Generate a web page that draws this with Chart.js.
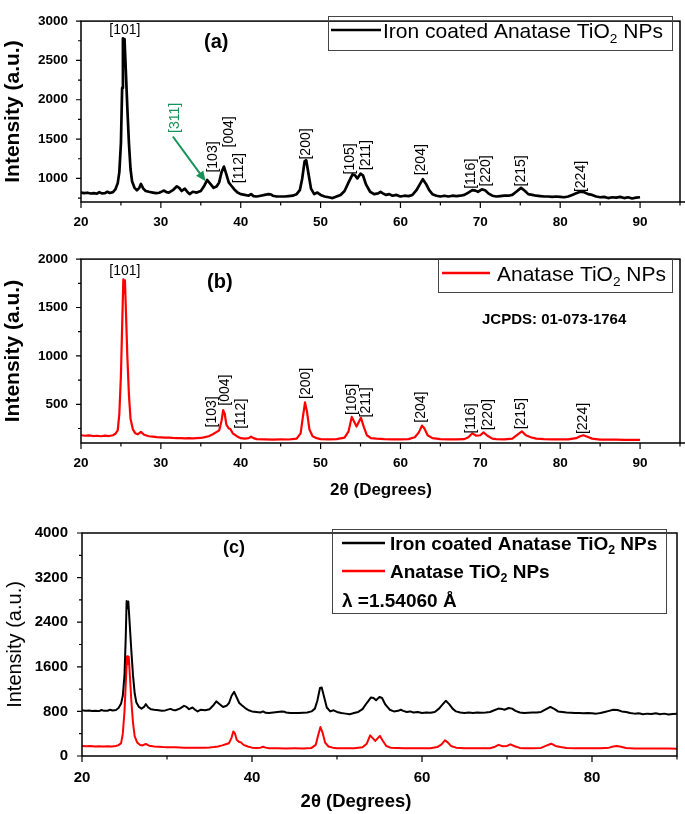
<!DOCTYPE html>
<html><head><meta charset="utf-8">
<script src="https://cdn.jsdelivr.net/npm/chart.js@4.4.0/dist/chart.umd.min.js"></script>
<style>
html,body{margin:0;padding:0;background:#fff;}
#wrap{position:relative;width:685px;height:814px;overflow:hidden;}
canvas{position:absolute;left:0;}
</style></head><body>
<div id="wrap">
<canvas id="ca" width="685" height="232" style="top:0px"></canvas>
<canvas id="cb" width="685" height="268" style="top:238px"></canvas>
<canvas id="cc" width="685" height="304" style="top:510px"></canvas>
</div>
<script>
// ---------- DATA ----------
const twoThetaIron = [20,20.4,20.8,21.2,21.6,22,22.3,22.6,23,23.3,23.6,24,24.3,24.6,24.8,25,25.15,25.25,25.35,25.45,25.6,25.8,26,26.2,26.4,26.7,27,27.3,27.5,27.8,28.1,28.5,29,29.4,29.8,30.1,30.4,30.7,31,31.5,32,32.3,32.6,33,33.3,33.6,34,34.5,35,35.4,35.8,36.2,36.6,37,37.3,37.6,37.9,38.2,38.5,38.8,39.2,39.6,40,40.5,41,41.3,41.6,42,42.5,43,43.5,43.8,44,44.5,45,45.5,46,46.5,47,47.4,47.7,48,48.2,48.5,48.8,49.2,49.6,50,50.5,51,51.5,52,52.5,53,53.5,54,54.3,54.6,55,55.3,55.7,56.2,56.7,57.2,57.5,57.8,58.2,58.6,59,59.5,60,60.5,61,61.5,62,62.4,62.8,63.2,63.6,64,64.5,65,65.5,66,66.5,67,67.5,68,68.5,69,69.4,69.7,70.2,70.6,71,71.5,72,72.5,73,73.5,74,74.5,75.1,75.6,76,76.5,77,77.5,78,78.5,79,79.5,80,80.5,81,81.5,82,82.5,83,83.5,84,84.5,85,85.5,86,86.5,87,87.5,88,88.5,89,89.5,90];
const ironCoated = [820,812,818,808,812,805,825,810,812,830,815,825,860,940,1080,1450,2150,2780,2650,2770,2400,1900,1450,1120,960,880,850,880,930,870,840,830,820,812,818,832,845,826,820,850,900,880,840,870,830,800,830,820,840,900,980,930,880,900,950,1080,1150,1050,950,910,860,820,800,790,780,800,775,770,780,790,800,795,780,770,770,770,775,780,800,850,1000,1220,1230,1050,870,800,820,790,770,760,750,770,790,840,950,1050,1040,1000,1060,1040,920,830,800,810,830,810,790,800,780,790,770,780,775,790,850,920,990,930,850,800,780,770,780,770,780,775,780,790,820,850,845,830,860,850,810,780,770,775,780,780,790,830,880,840,800,790,780,775,770,770,765,770,765,760,770,790,810,830,825,800,790,770,760,765,750,760,755,765,750,760,745,755,760];
const twoThetaAnatase = [20,20.5,21,21.5,22,22.5,23,23.5,24,24.3,24.6,24.8,25,25.15,25.3,25.4,25.5,25.65,25.8,26,26.2,26.5,26.8,27.1,27.5,27.9,28.5,29,29.5,30,30.5,31,31.5,32,32.5,33,33.5,34,34.5,35,35.5,36,36.5,37,37.3,37.6,37.8,38,38.2,38.5,38.7,39,39.5,40,40.5,41,41.3,41.6,42,43,44,45,46,47,47.5,47.8,48.05,48.3,48.6,49,49.5,50,51,52,53,53.5,53.9,54.2,54.5,54.8,55.05,55.4,55.8,56.3,57,58,59,60,61,61.8,62.3,62.7,63,63.4,64,65,66,67,68,68.5,69,69.5,70,70.4,70.9,71.5,72,73,74,74.7,75.2,75.7,76.3,77,78,79,80,81,82,82.5,82.9,83.4,84,85,86,87,88,89,90];
const anatase = [180,175,178,172,175,170,176,172,180,195,230,400,800,1300,1790,1650,1780,1400,1000,600,350,240,200,190,215,185,170,165,160,158,155,155,152,150,150,148,150,147,150,152,160,170,190,215,230,330,440,400,290,250,245,200,170,150,145,150,165,150,140,138,135,137,136,145,200,380,520,420,240,170,150,140,137,140,155,220,370,320,270,320,360,270,180,150,145,140,138,137,140,160,210,280,250,180,150,140,138,137,140,160,200,175,180,210,175,145,140,138,145,190,220,180,160,145,140,138,137,138,150,170,180,165,145,135,135,134,133,133,132];

// tick labels
const xTicksAB = [20,30,40,50,60,70,80,90];
const xMinorAB = [25,35,45,55,65,75,85,95];
const yTicksA = [1000,1500,2000,2500,3000];
const yMinorA = [750,1250,1750,2250,2750];
const yTicksB = [500,1000,1500,2000];
const yMinorB = [250,750,1250,1750];
const xTicksC = [20,40,60,80];
const xMinorC = [30,50,70,90];
const yTicksC = [0,800,1600,2400,3200,4000];
const yMinorC = [400,1200,2000,2800,3600];

// peak labels (hkl) anchored at (2θ, intensity)
const hklA = ['[103]','[004]','[112]','[200]','[105]','[211]','[204]','[116]','[220]','[215]','[224]'];
const hklAtA = [[36.6,1272],[38.5,1592],[39.75,1130],[48.25,1438],[53.75,1249],[55.75,1296],[62.6,1237],[68.9,1059],[70.75,1095],[75.1,1095],[82.6,1024]];
const hklB = ['[103]','[004]','[112]','[200]','[105]','[211]','[204]','[116]','[220]','[215]','[224]'];
const hklAtB = [[36.4,422],[38.1,647],[40,402],[48.25,716],[53.9,549],[55.75,520],[62.6,471],[68.9,353],[71,392],[75.1,402],[82.9,353]];

const FONT = '"Liberation Sans", Arial, Helvetica, sans-serif';
const GREEN = '#17925a';

function subText(ctx, parts, x, y, size, weight){
  let cx = x;
  for (const [t, sub] of parts){
    if (sub){
      ctx.font = weight + ' ' + (size*0.65) + 'px ' + FONT;
      ctx.fillText(t, cx, y + size*0.22);
    } else {
      ctx.font = weight + ' ' + size + 'px ' + FONT;
      ctx.fillText(t, cx, y);
    }
    cx += ctx.measureText(t).width;
  }
}

function rotText(ctx, t, x, y, font, color){
  ctx.save();
  ctx.translate(x, y);
  ctx.rotate(-Math.PI/2);
  ctx.font = font; ctx.fillStyle = color;
  ctx.textAlign = 'center'; ctx.textBaseline = 'middle';
  ctx.fillText(t, 0, 0);
  ctx.restore();
}

function deco(o){
  return {
    id: 'deco_' + o.name,
    afterDraw(chart){
      const ctx = chart.ctx, a = chart.chartArea;
      const xs = chart.scales.x, ys = chart.scales.y;
      ctx.save();
      ctx.strokeStyle = '#000'; ctx.lineWidth = 1.5;
      ctx.strokeRect(a.left, a.top, a.right - a.left, a.bottom - a.top);
      if (o.extendAxis){
        ctx.beginPath(); ctx.moveTo(a.right, a.bottom); ctx.lineTo(chart.width, a.bottom); ctx.stroke();
      }
      ctx.lineWidth = 1.2;
      ctx.beginPath();
      o.xTicks.forEach(v=>{const p=xs.getPixelForValue(v); ctx.moveTo(p,a.bottom); ctx.lineTo(p,a.bottom+6);});
      o.xMinor.forEach(v=>{const p=xs.getPixelForValue(v); ctx.moveTo(p,a.bottom); ctx.lineTo(p,a.bottom+3.5);});
      o.yTicks.forEach(v=>{const p=ys.getPixelForValue(v); ctx.moveTo(a.left,p); ctx.lineTo(a.left-5,p);});
      o.yMinor.forEach(v=>{const p=ys.getPixelForValue(v); ctx.moveTo(a.left,p); ctx.lineTo(a.left-3,p);});
      ctx.stroke();
      rotText(ctx, 'Intensity (a.u.)', o.yTitleX, (a.top+a.bottom)/2, o.yTitleFont, '#000');
      if (o.xTitle){
        ctx.font = o.xTitle.font; ctx.fillStyle = '#000';
        ctx.textAlign = 'center'; ctx.textBaseline = 'middle';
        ctx.fillText('2\u03B8 (Degrees)', o.xTitle.x, o.xTitle.y);
      }
      ctx.font = o.panel.font; ctx.fillStyle = '#000';
      ctx.textAlign = 'left'; ctx.textBaseline = 'middle';
      ctx.fillText(o.panel.t, o.panel.x, o.panel.y);
      if (o.hkl){
        const [txt, at] = o.hkl;
        txt.forEach((t,i)=>rotText(ctx, t, xs.getPixelForValue(at[i][0]), ys.getPixelForValue(at[i][1]), '14px ' + FONT, '#000'));
      }
      if (o.h101){
        ctx.font = '14px ' + FONT; ctx.fillStyle = '#000'; ctx.textAlign='center'; ctx.textBaseline='middle';
        ctx.fillText('[101]', xs.getPixelForValue(o.h101[0]), ys.getPixelForValue(o.h101[1]));
      }
      if (o.extra) o.extra(ctx, chart);
      ctx.restore();
    }
  };
}

function makeChart(id, datasets, o){
  return new Chart(document.getElementById(id), {
    type: 'line',
    data: { datasets },
    options: {
      responsive: false, animation: false, events: [],
      layout: { padding: { left: 0, right: o.padRight, top: o.top, bottom: 0 } },
      plugins: { legend: { display: false }, tooltip: { enabled: false } },
      elements: { point: { radius: 0 }, line: { tension: 0, borderJoinStyle: 'round' } },
      scales: {
        x: {
          type: 'linear', min: o.xmin, max: o.xmax,
          grid: { display: false, drawTicks: false }, border: { display: false },
          afterBuildTicks: s => { s.ticks = o.xTicks.map(v => ({ value: v })); },
          afterFit: s => { s.height = o.xAxisH; },
          ticks: { autoSkip: false, maxRotation: 0, padding: o.xPad, color: '#000',
                   font: { family: FONT, size: o.tickSize, weight: 'bold' }, callback: v => String(v) }
        },
        y: {
          type: 'linear', min: o.ymin, max: o.ymax,
          grid: { display: false, drawTicks: false }, border: { display: false },
          afterBuildTicks: s => { s.ticks = o.yTicks.map(v => ({ value: v })); },
          afterFit: s => { s.width = o.left; },
          ticks: { autoSkip: false, padding: o.yPad, color: '#000',
                   font: { family: FONT, size: o.tickSize, weight: 'bold' }, callback: v => String(v) }
        }
      }
    },
    plugins: [deco(o)]
  });
}

const pts = (xs, ys) => xs.map((x, i) => ({ x, y: ys[i] }));

// ---------- (a) ----------
makeChart('ca', [
  { data: pts(twoThetaIron, ironCoated), borderColor: '#000', borderWidth: 2.7 }
], {
  name: 'a', xmin: 20, xmax: 95, ymin: 700, ymax: 3000, top: 8, padRight: 5, left: 81, xAxisH: 30,
  xPad: 12, yPad: 13, tickSize: 13.5, xTicks: xTicksAB, xMinor: xMinorAB, yTicks: yTicksA, yMinor: yMinorA,
  extendAxis: true, yTitleX: 13, yTitleFont: 'bold 21px ' + FONT,
  panel: { t: '(a)', x: 204, y: 42, font: 'bold 20px ' + FONT },
  hkl: [hklA, hklAtA], h101: [25.5, 2882],
  extra: (ctx, chart) => {
    const xs = chart.scales.x, ys = chart.scales.y;
    rotText(ctx, '[311]', xs.getPixelForValue(31.75), ys.getPixelForValue(1769), '14px ' + FONT, GREEN);
    const x1 = xs.getPixelForValue(31.5), y1 = ys.getPixelForValue(1533);
    const x2 = xs.getPixelForValue(35.6), y2 = ys.getPixelForValue(964);
    const ang = Math.atan2(y2 - y1, x2 - x1);
    ctx.strokeStyle = GREEN; ctx.fillStyle = GREEN; ctx.lineWidth = 2;
    ctx.beginPath(); ctx.moveTo(x1, y1); ctx.lineTo(x2 - 6*Math.cos(ang), y2 - 6*Math.sin(ang)); ctx.stroke();
    ctx.beginPath(); ctx.moveTo(x2, y2);
    ctx.lineTo(x2 - 10*Math.cos(ang) + 4.5*Math.sin(ang), y2 - 10*Math.sin(ang) - 4.5*Math.cos(ang));
    ctx.lineTo(x2 - 10*Math.cos(ang) - 4.5*Math.sin(ang), y2 - 10*Math.sin(ang) + 4.5*Math.cos(ang));
    ctx.closePath(); ctx.fill();
    ctx.strokeStyle = '#444'; ctx.lineWidth = 1;
    ctx.strokeRect(328.5, 16.5, 344, 34);
    ctx.strokeStyle = '#000'; ctx.lineWidth = 2.5;
    ctx.beginPath(); ctx.moveTo(331, 30); ctx.lineTo(381, 30); ctx.stroke();
    ctx.fillStyle = '#000'; ctx.textAlign = 'left'; ctx.textBaseline = 'alphabetic';
    subText(ctx, [['Iron coated Anatase TiO', false], ['2', true], [' NPs', false]], 383, 38, 21, 'normal');
  }
});

// ---------- (b) ----------
makeChart('cb', [
  { data: pts(twoThetaAnatase, anatase), borderColor: '#ff0000', borderWidth: 2.2 }
], {
  name: 'b', xmin: 20, xmax: 95, ymin: 100, ymax: 2000, top: 10, padRight: 5, left: 81, xAxisH: 63,
  xPad: 12, yPad: 13, tickSize: 13.5, xTicks: xTicksAB, xMinor: xMinorAB, yTicks: yTicksB, yMinor: yMinorB,
  extendAxis: true, yTitleX: 13, yTitleFont: 'bold 21px ' + FONT,
  xTitle: { x: 381, y: 252, font: 'bold 17px ' + FONT },
  panel: { t: '(b)', x: 207, y: 44, font: 'bold 20px ' + FONT },
  hkl: [hklB, hklAtB], h101: [25.5, 1873],
  extra: (ctx) => {
    ctx.strokeStyle = '#444'; ctx.lineWidth = 1;
    ctx.strokeRect(438.5, 20.5, 234, 34);
    ctx.strokeStyle = '#ff0000'; ctx.lineWidth = 2.5;
    ctx.beginPath(); ctx.moveTo(442, 35); ctx.lineTo(490, 35); ctx.stroke();
    ctx.fillStyle = '#000'; ctx.textAlign = 'left'; ctx.textBaseline = 'alphabetic';
    subText(ctx, [['Anatase TiO', false], ['2', true], [' NPs', false]], 497, 43, 21, 'normal');
    ctx.font = 'bold 15px ' + FONT; ctx.textBaseline = 'middle';
    ctx.fillText('JCPDS: 01-073-1764', 482, 82);
  }
});

// ---------- (c) ----------
makeChart('cc', [
  { data: pts(twoThetaIron, ironCoated), borderColor: '#000', borderWidth: 2 },
  { data: pts(twoThetaAnatase, anatase), borderColor: '#ff0000', borderWidth: 2 }
], {
  name: 'c', xmin: 20, xmax: 90, ymin: 0, ymax: 4000, top: 12, padRight: 8, left: 82, xAxisH: 58,
  xPad: 13, yPad: 14, tickSize: 15, xTicks: xTicksC, xMinor: xMinorC, yTicks: yTicksC, yMinor: yMinorC,
  extendAxis: false, yTitleX: 15, yTitleFont: 'normal 20px ' + FONT,
  xTitle: { x: 356, y: 292, font: 'bold 18.5px ' + FONT },
  panel: { t: '(c)', x: 223, y: 38, font: 'bold 18px ' + FONT },
  extra: (ctx) => {
    ctx.strokeStyle = '#444'; ctx.lineWidth = 1;
    ctx.strokeRect(332.5, 19.5, 334, 84);
    ctx.lineWidth = 2.5;
    ctx.strokeStyle = '#000';
    ctx.beginPath(); ctx.moveTo(342, 33); ctx.lineTo(385, 33); ctx.stroke();
    ctx.strokeStyle = '#ff0000';
    ctx.beginPath(); ctx.moveTo(342, 61); ctx.lineTo(385, 61); ctx.stroke();
    ctx.fillStyle = '#000'; ctx.textAlign = 'left'; ctx.textBaseline = 'alphabetic';
    subText(ctx, [['Iron coated Anatase TiO', false], ['2', true], [' NPs', false]], 390, 40, 19, 'bold');
    subText(ctx, [['Anatase TiO', false], ['2', true], [' NPs', false]], 390, 68, 19, 'bold');
    subText(ctx, [['\u03BB =1.54060 \u00C5', false]], 342, 97, 19, 'bold');
  }
});
</script>
</body></html>
